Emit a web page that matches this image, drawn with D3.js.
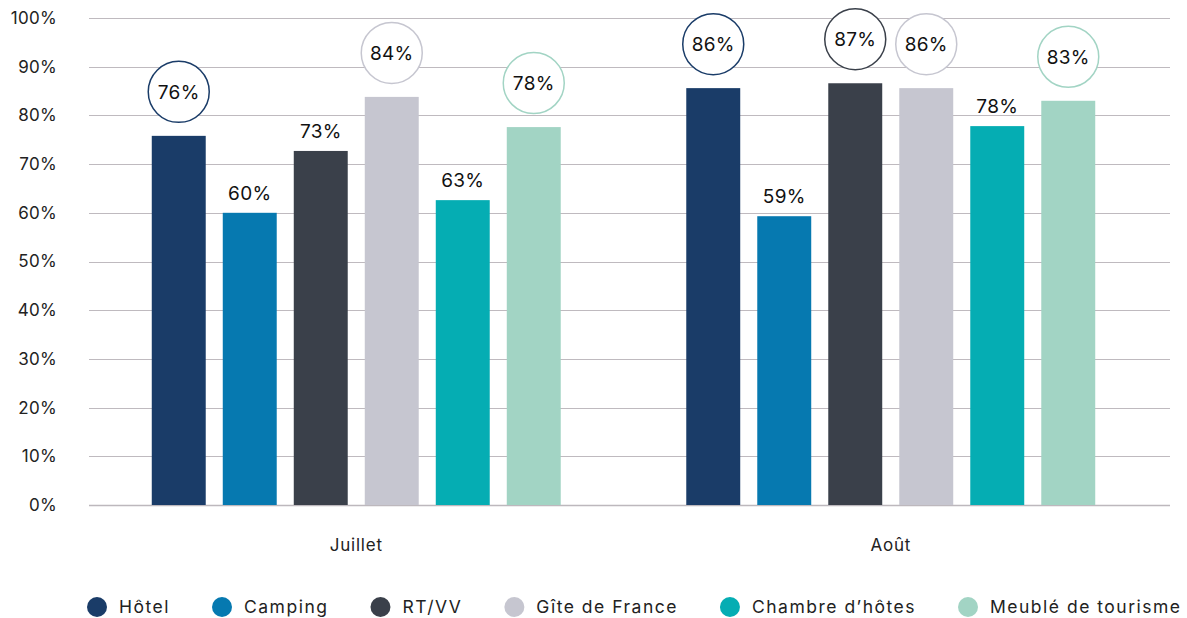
<!DOCTYPE html>
<html>
<head>
<meta charset="utf-8">
<script src="https://cdn.jsdelivr.net/npm/d3@7"></script>
<style>
    body { margin: 0; background: #fff; }
    svg { font-family: Inter, "Noto Sans", sans-serif; }
</style>
</head>
<body>
<script>
const months = ["Juillet", "Août"];
const categories = ["Hôtel", "Camping", "RT/VV", "Gîte de France", "Chambre d’hôtes", "Meublé de tourisme"];
const juillet = [75.8, 60.0, 72.7, 83.8, 62.6, 77.6];
const aout = [85.6, 59.3, 86.6, 85.6, 77.8, 83.0];
const yTicks = [0, 10, 20, 30, 40, 50, 60, 70, 80, 90, 100];
// labels drawn inside a ring
const circled = {
    "Juillet": ["Hôtel", "Gîte de France", "Meublé de tourisme"],
    "Août": ["Hôtel", "RT/VV", "Gîte de France", "Meublé de tourisme"]
};

const colors = ["#1a3c68", "#0679b0", "#3a404a", "#c6c6d0", "#05adb3", "#a2d4c4"];

const width = 1187;
const height = 618;
const marginTop = 18;
const marginBottom = 113;
const marginLeft = 89;
const gridRight = 1170;

const series = months.map((m, i) => ({
    month: m,
    values: categories.map((c, j) => ({ month: m, cat: c, value: [juillet, aout][i][j] }))
}));

const svg = d3.select("body").append("svg")
    .attr("width", width)
    .attr("height", height);

const x0 = d3.scaleBand()
    .domain(months)
    .range([marginLeft, 1158]);

const x1 = d3.scaleBand()
    .domain(categories)
    .range([0, x0.bandwidth()])
    .paddingInner(0.24)
    .paddingOuter(0.884);

const y = d3.scaleLinear()
    .domain([0, 100])
    .range([height - marginBottom, marginTop]);

const color = d3.scaleOrdinal().domain(categories).range(colors);

// Grid lines
svg.append("g")
    .selectAll("line")
    .data(yTicks)
    .join("line")
        .attr("x1", marginLeft)
        .attr("x2", gridRight)
        .attr("y1", d => Math.round(y(d)) + 0.5)
        .attr("y2", d => Math.round(y(d)) + 0.5)
        .attr("stroke", d => d === 0 ? "#bdb8bd" : "#bfbabf")
        .attr("stroke-width", d => d === 0 ? 1.5 : 1);

// Y axis labels
svg.append("g")
    .selectAll("text")
    .data(yTicks)
    .join("text")
        .attr("x", 57)
        .attr("y", d => y(d))
        .attr("dy", "0.35em")
        .attr("text-anchor", "end")
        .attr("fill", "#222")
        .style("font-size", "17px")
        .style("letter-spacing", "0.3px")
        .text(d => d + "%");

// Bars
const groups = svg.append("g")
    .selectAll("g")
    .data(series)
    .join("g")
        .attr("transform", d => `translate(${x0(d.month)},0)`);

groups.selectAll("rect")
    .data(d => d.values)
    .join("rect")
        .attr("x", d => x1(d.cat))
        .attr("y", d => y(d.value))
        .attr("width", x1.bandwidth())
        .attr("height", d => y(0) - y(d.value))
        .attr("fill", d => color(d.cat));

// Value labels
const labels = groups.selectAll("g.label")
    .data(d => d.values)
    .join("g")
        .attr("class", "label")
        .attr("transform", d => {
            const ring = circled[d.month].includes(d.cat);
            return `translate(${x1(d.cat) + x1.bandwidth() / 2},${y(d.value) - (ring ? 44 : 20)})`;
        });

labels.filter(d => circled[d.month].includes(d.cat))
    .append("circle")
        .attr("r", 30.5)
        .attr("fill", "#fff")
        .attr("stroke", d => color(d.cat))
        .attr("stroke-width", 1.5);

labels.append("text")
    .attr("text-anchor", "middle")
    .attr("dy", "0.36em")
    .attr("fill", "#111")
    .style("font-size", "19px")
    .style("letter-spacing", "0.3px")
    .text(d => Math.round(d.value) + "%");

// Month labels
svg.append("g")
    .selectAll("text")
    .data(months)
    .join("text")
        .attr("x", d => x0(d) + x0.bandwidth() / 2)
        .attr("y", 545)
        .attr("dy", "0.35em")
        .attr("text-anchor", "middle")
        .attr("fill", "#222")
        .style("font-size", "17px")
        .style("letter-spacing", "0.8px")
        .text(d => d);

// Legend
const legend = svg.append("g").attr("transform", "translate(0,607)");
let lx = 87;
categories.forEach(c => {
    const item = legend.append("g").attr("transform", `translate(${lx},0)`);
    item.append("circle")
        .attr("cx", 10)
        .attr("r", 10)
        .attr("fill", color(c));
    const t = item.append("text")
        .attr("x", 32)
        .attr("dy", "0.35em")
        .attr("fill", "#222")
        .style("font-size", "17.5px")
        .style("letter-spacing", "1.5px")
        .text(c);
    lx += 32 + t.node().getComputedTextLength() + 42;
});
</script>
</body>
</html>
